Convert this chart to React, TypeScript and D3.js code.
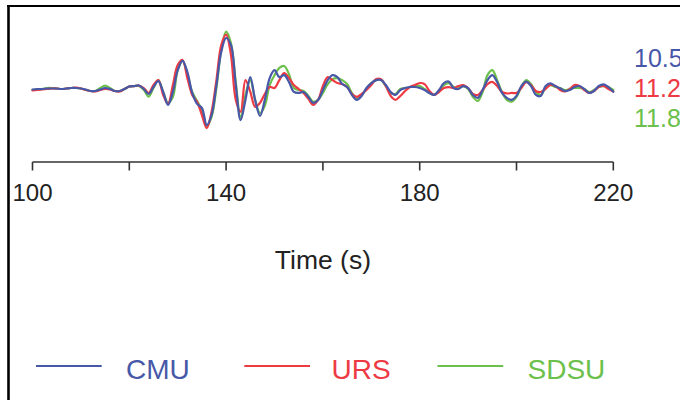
import React from "react";
import * as d3 from "d3";

// Seismogram comparison, sampled every 1 s from 100 s to 220 s (velocity, cm/s)
const START_TIME = 100;
const STEP = 1;

const cmu = [
  0.1, 0.2, 0.2, 0.3, 0.3, 0.3, 0.2, 0.3, 0.4, 0.4,
  0.3, 0.1, -0.2, -0.2, 0.1, 0.4, 0.2, -0.2, -0.2, 0.2,
  0.7, 0.8, 0.9, 0.2, -0.8, 0.6, 1.8, -0.4, -3.0, -0.4,
  4.0, 5.9, 3.6, -0.6, -2.8, -3.6, -7.1, -5.05, 1.0, 7.7,
  10.5, 9.1, 1.0, -6.1, -2.0, 2.6, -2.0, -5.25, -2.0, 2.4,
  4.0, 2.6, 3.0, 1.6, -0.4, -0.6, -0.4, -1.4, -2.6, -2.0,
  0.0, 2.0, 3.0, 2.6, 1.2, 0.6, -1.0, -2.0, -1.2, 0.4,
  1.4, 2.0, 2.0, 1.0, -0.4, -1.0, 0.0, 0.4, 0.6, 0.6,
  0.4, 0.0, -0.6, -1.0, 0.0, 1.4, 1.7, 0.4, 0.2, 0.8,
  0.4, -1.0, -1.6, 0.0, 2.0, 3.0, 1.6, -0.6, -1.6, -2.0,
  -1.2, 0.8, 1.7, 0.8, -1.0, -1.2, 0.8, 1.35, 0.8, 0.35,
  -0.2, 0.0, 0.6, 0.8, 0.2, -0.6, -0.2, 0.8, 1.15, 0.6,
  -0.35,
];

const urs = [
  -0.1, 0.0, 0.1, 0.2, 0.3, 0.3, 0.2, 0.3, 0.4, 0.5,
  0.3, 0.0, -0.2, -0.3, 0.0, 0.2, 0.1, -0.2, -0.3, 0.2,
  0.7, 0.8, 0.9, 0.4, -0.6, 1.0, 2.0, -1.0, -2.8, 1.0,
  5.05, 6.06, 2.4, -1.0, -2.4, -5.05, -7.7, -4.4, 2.0, 9.1,
  11.2, 7.1, -2.0, -4.4, 2.0, -0.4, -3.4, -2.6, -0.8, 0.6,
  0.4, 2.0, 3.4, 2.4, 1.0, 0.2, -0.6, -1.8, -3.0, -2.0,
  0.8, 2.6, 2.0, 1.4, 1.2, 0.6, -0.8, -1.4, -0.8, 0.0,
  1.0, 2.2, 2.2, 0.8, -1.2, -2.0, -1.2, -0.2, 0.6, 1.0,
  1.4, 1.2, -0.2, -1.0, -0.4, 0.4, 0.6, 0.4, 0.8, 1.0,
  0.4, -0.8, -1.0, 0.0, 1.2, 1.65, 0.8, -0.4, -0.7, -0.6,
  -0.6, 0.4, 1.6, 1.0, -0.2, -0.4, 0.2, 1.0, 0.8, 0.0,
  -0.3, 0.2, 1.0, 0.8, 0.0, -0.6, -0.2, 0.6, 0.8, 0.2,
  -0.3,
];

const sdsu = [
  0.0, 0.1, 0.2, 0.4, 0.4, 0.3, 0.2, 0.3, 0.4, 0.4,
  0.3, 0.0, -0.2, -0.2, 0.4, 0.9, 0.4, -0.2, -0.2, 0.2,
  0.7, 0.8, 0.8, 0.0, -1.35, 0.4, 2.0, -0.4, -2.6, -1.4,
  4.0, 5.9, 3.2, -0.4, -2.2, -4.0, -7.3, -5.45, 0.4, 8.1,
  11.8, 9.5, 1.6, -5.66, -1.0, 2.0, -2.0, -4.65, -3.2, 1.0,
  3.0, 4.45, 4.85, 3.2, 0.4, 0.0, -0.2, -1.2, -2.4, -2.0,
  -0.6, 1.2, 2.2, 2.4, 2.0, 1.2, -0.6, -1.6, -1.0, 0.2,
  1.4, 2.0, 2.0, 0.8, -0.6, -0.8, 0.2, 0.4, 0.6, 0.8,
  0.8, 0.2, -0.6, -1.0, -0.2, 1.0, 1.4, 0.6, 0.4, 0.8,
  0.2, -1.4, -2.2, -0.4, 3.0, 4.0, 2.0, -0.4, -2.0, -2.35,
  -1.4, 0.6, 2.0, 1.2, -0.4, -1.0, 0.4, 1.0, 0.6, 0.4,
  0.0, 0.2, 0.4, 0.4, 0.2, -0.4, 0.0, 0.6, 0.8, 0.6,
  0.0,
];

const seriesNames = ["CMU", "URS", "SDSU"];
const seriesColors = ["#4858a8", "#ee3a43", "#6cc04c"];
const peakLabels = ["10.5", "11.2", "11.8"];
const xTicks = [100, 120, 140, 160, 180, 200, 220];
const xTickLabels = ["100", "", "140", "", "180", "", "220"];
const xTitle = "Time (s)";

const FONT = "'Liberation Sans', Arial, Helvetica, sans-serif";

export default function App() {
  const W = 680;
  const H = 400;
  const x = d3.scaleLinear().domain([100, 220]).range([32.5, 613.3]);
  const y = d3.scaleLinear().domain([-12, 12]).range([149.4, 30.6]);

  const line = d3
    .line<number>()
    .x((_, i) => x(START_TIME + i * STEP))
    .y((v) => y(v))
    .curve(d3.curveCatmullRom.alpha(0.5));

  const data = [cmu, urs, sdsu];
  const drawOrder = [2, 1, 0];

  const axisY = 162;
  const legendItems = [
    { lx: 36, tx: 126 },
    { lx: 244.3, tx: 331.5 },
    { lx: 437.5, tx: 527.5 },
  ];
  const peakBaselines = [66.5, 96.5, 126.5];

  return (
    <svg
      width={W}
      height={H}
      style={{ position: "absolute", left: 0, top: 0, background: "#fff" }}
      fontFamily={FONT}
    >
      <rect x={0} y={0} width={W} height={H} fill="#fff" />
      {/* frame */}
      <line x1={8.5} y1={5} x2={8.5} y2={H} stroke="#000" strokeWidth={2.6} />
      <line x1={7.2} y1={6} x2={W} y2={6} stroke="#000" strokeWidth={2.2} />

      {/* traces */}
      {drawOrder.map((k) => (
        <path
          key={seriesNames[k]}
          d={line(data[k]) || ""}
          fill="none"
          stroke={seriesColors[k]}
          strokeWidth={2.2}
          strokeLinejoin="round"
          strokeLinecap="round"
        />
      ))}

      {/* peak labels */}
      {peakLabels.map((lab, k) => (
        <text
          key={lab}
          x={634}
          y={peakBaselines[k]}
          fontSize={25}
          fill={seriesColors[k]}
        >
          {lab}
        </text>
      ))}

      {/* x axis */}
      <line
        x1={x(100)}
        x2={x(220)}
        y1={axisY}
        y2={axisY}
        stroke="#333"
        strokeWidth={1.6}
      />
      {xTicks.map((t, i) => (
        <g key={t}>
          <line
            x1={x(t)}
            x2={x(t)}
            y1={axisY}
            y2={axisY + 8.5}
            stroke="#333"
            strokeWidth={1.6}
          />
          {xTickLabels[i] && (
            <text
              x={x(t)}
              y={200.5}
              fontSize={24}
              textAnchor="middle"
              fill="#222"
            >
              {xTickLabels[i]}
            </text>
          )}
        </g>
      ))}
      <text
        x={(x(100) + x(220)) / 2}
        y={268.5}
        fontSize={26.5}
        textAnchor="middle"
        fill="#222"
      >
        {xTitle}
      </text>

      {/* legend */}
      {seriesNames.map((name, k) => (
        <g key={name}>
          <line
            x1={legendItems[k].lx}
            x2={legendItems[k].lx + 65.7}
            y1={366}
            y2={366}
            stroke={seriesColors[k]}
            strokeWidth={2}
          />
          <text
            x={legendItems[k].tx}
            y={378.5}
            fontSize={28}
            fill={seriesColors[k]}
          >
            {name}
          </text>
        </g>
      ))}
    </svg>
  );
}
